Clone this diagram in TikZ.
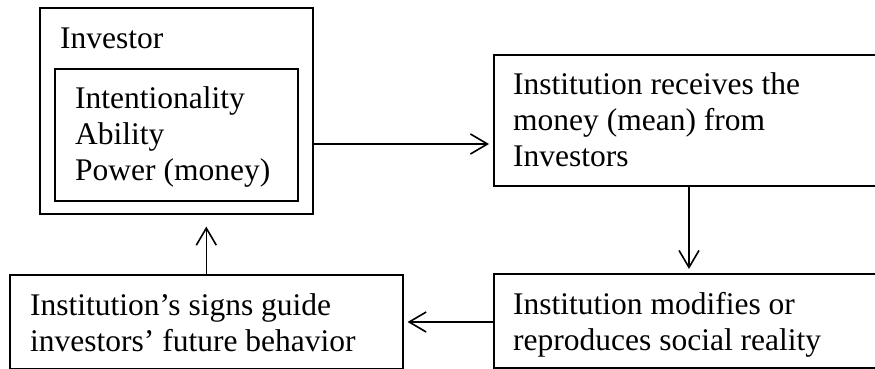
\documentclass[tikz,border=0pt]{standalone}
\usepackage{fontspec}
\setmainfont{Liberation Serif}
\usetikzlibrary{arrows.meta}
\newcommand\mystrut{\rule{0pt}{26pt}}
\begin{document}
\begin{tikzpicture}[x=1pt,y=-1pt,
  box/.style={draw, line width=1.6pt, inner sep=0pt, anchor=north west},
  txt/.style={anchor=north west, inner sep=0pt, align=left, font=\fontsize{31.5}{36}\selectfont},
  arr/.style={line width=1.6pt, -{Straight Barb[length=17pt,width=20pt,line width=1.6pt]}}]
\useasboundingbox (0,0) rectangle (875,369);
\clip (0,0) rectangle (875,369);
\node[box, minimum width=273pt, minimum height=206pt] (outer) at (39,7) {};
\node[box, minimum width=243pt, minimum height=132pt] (inner) at (54,68) {};
\node[box, minimum width=420pt, minimum height=131pt] (tr) at (493,54) {};
\node[box, minimum width=420pt, minimum height=94pt] (br) at (493,273) {};
\node[box, minimum width=393pt, minimum height=94pt] (bl) at (9,274) {};
\node[txt] (tinv) at (60,22) {\mystrut Investor};
\node[txt] (tinner) at (75,82) {\mystrut Intentionality\\Ability\\Power (money)};
\node[txt] (ttr) at (513,68) {\mystrut Institution receives the\\money (mean) from\\Investors};
\node[txt] (tbr) at (513,288) {\mystrut Institution modifies or\\reproduces social reality};
\node[txt] (tbl) at (30,289) {\mystrut Institution’s signs guide\\investors’ future behavior};
\draw[arr, shorten >=4pt] (outer.east |- 0,144) -- (tr.west |- 0,144);
\draw[arr, shorten >=4pt] (tr.south -| 689,0) -- (br.north -| 689,0);
\draw[arr, shorten >=4pt] (br.west |- 0,322) -- (bl.east |- 0,322);
\draw[arr, shorten >=12pt] (bl.north) -- (bl.north |- outer.south);
\end{tikzpicture}
\end{document}
